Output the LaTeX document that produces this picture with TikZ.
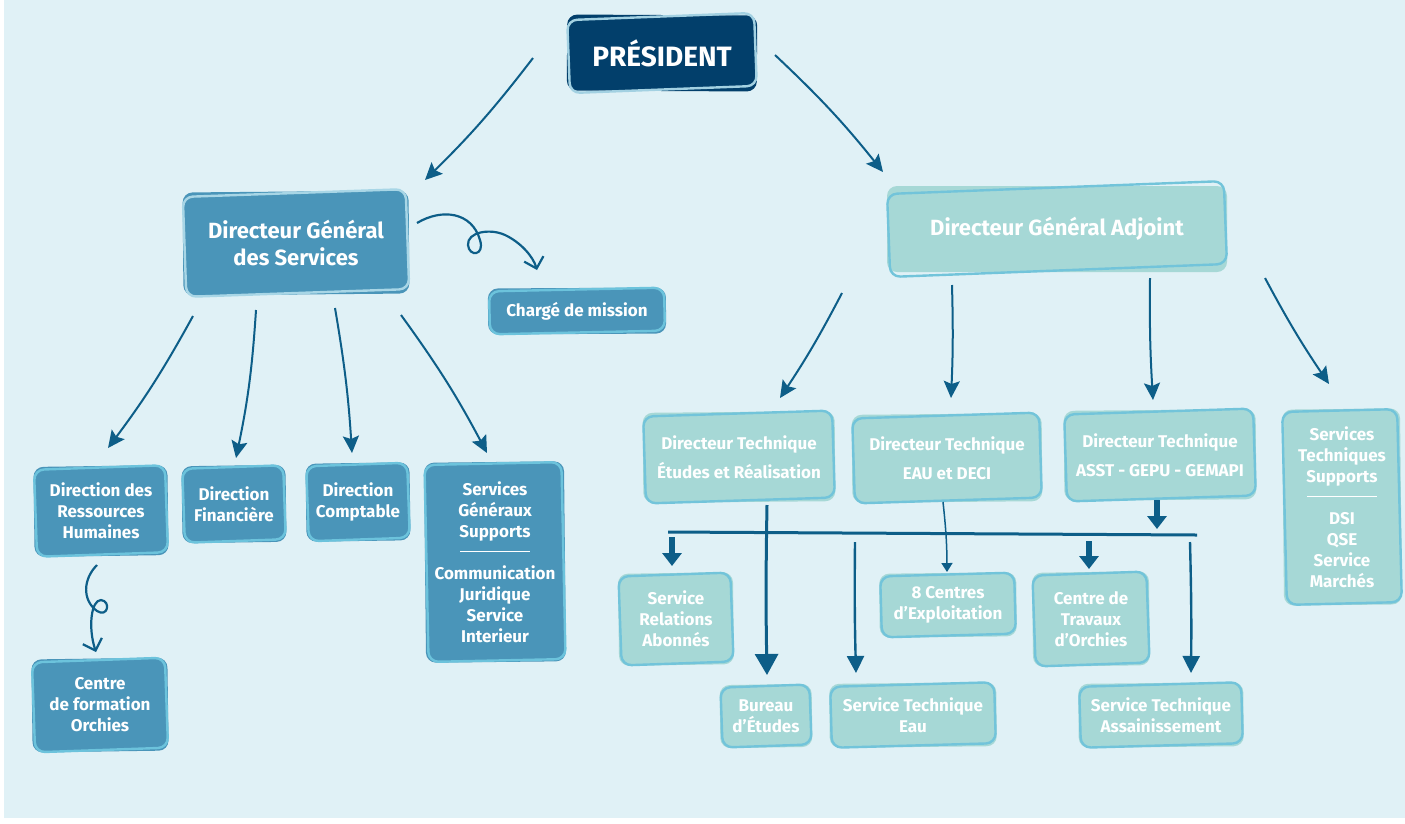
\documentclass[tikz,border=0pt]{standalone}
\usepackage{fontspec}
\setmainfont{Fira Sans}
\usetikzlibrary{arrows.meta,calc}
\definecolor{bgc}{HTML}{E0F1F6}
\definecolor{navy}{HTML}{023F6B}
\definecolor{navyline}{HTML}{A3D1E2}
\definecolor{cblue}{HTML}{4A95B9}
\definecolor{cblueline}{HTML}{6CC3DC}
\definecolor{dgsline}{HTML}{A8D6E6}
\definecolor{cteal}{HTML}{A6D8D6}
\definecolor{ctealline}{HTML}{72C4DA}
\definecolor{carr}{HTML}{0D5E88}
\pgfdeclarelayer{bg}
\pgfdeclarelayer{boxes}
\pgfsetlayers{bg,boxes,main}
\newcommand\fpres{\bfseries\fontsize{28}{34}\selectfont}
\newcommand\fbig{\bfseries\fontsize{22}{27}\selectfont}
\newcommand\fmid{\bfseries\fontsize{17}{21}\selectfont}
\newcommand\fsm{\bfseries\fontsize{17}{21}\selectfont}
\newcommand\fdt{\bfseries\fontsize{17}{28.5}\selectfont}
\tikzset{
  fc/.code={\colorlet{bxf}{#1}},
  lc/.code={\colorlet{bxl}{#1}},
  navybox/.style={fc=navy, lc=navyline},
  dgsbox/.style={fc=cblue, lc=dgsline},
  bluebox/.style={fc=cblue, lc=cblueline},
  tealbox/.style={fc=cteal, lc=ctealline},
  boxtext/.style={text=white, align=center, inner sep=0pt, outer sep=0pt},
  arr/.style={draw=carr, line width=2pt, -{Stealth[length=17pt, width=16pt, inset=3pt]}},
  blockarr/.style={draw=carr, line width=5.5pt, -{Triangle[length=13pt, width=19pt]}},
  bigarr/.style={draw=carr, line width=3pt, -{Triangle[length=21pt, width=23pt]}},
  midarr/.style={draw=carr, line width=2.4pt, -{Triangle[length=17pt, width=17pt]}},
  thinarr/.style={draw=carr, line width=1.5pt, -{Triangle[length=9pt, width=11pt]}},
  curlarr/.style={draw=carr, line width=2.2pt, -{Straight Barb[length=10pt, width=20pt, line width=2.2pt]}},
}
% #1 name, #2 x, #3 y, #4 w, #5 h, #6 style, #7 fill angle, #8 outline angle, #9 text
\newcommand\ubox[9]{%
  \begin{scope}[#6]
  \begin{pgfonlayer}{boxes}
    \node[fill=bxf, rounded corners=10pt, minimum width=#4, minimum height=#5, rotate=#7, inner sep=0pt] at (#2,#3) {};
    \node[draw=bxl, line width=2.4pt, rounded corners=10pt, minimum width=#4-3, minimum height=#5-3, rotate=#8, inner sep=0pt] at (#2,#3) {};
  \end{pgfonlayer}
  \node[boxtext, minimum width=#4, minimum height=#5] (#1) at (#2,#3) {#9};
  \end{scope}}
\begin{document}
\begin{tikzpicture}[x=1pt, y=-1pt]
\useasboundingbox (0,0) rectangle (1405,823);
\begin{pgfonlayer}{bg}
  \fill[white] (0,0) rectangle (1405,823);
  \fill[bgc] (4,0) rectangle (1405,818);
\end{pgfonlayer}

% boxes
\ubox{pres}{662}{53}{190}{76}{navybox, font=\fpres}{-0.3}{2.2}{PRÉSIDENT}
\ubox{dgs}{296}{243}{226}{103}{dgsbox, font=\fbig}{0.5}{2}{Directeur Général\\des Services}
\ubox{cdm}{577}{311}{178}{46}{bluebox, font=\fmid}{0.3}{1.2}{Chargé de mission}
\ubox{dga}{1057}{229}{340}{86}{tealbox, font=\fbig}{0}{2.2}{Directeur Général Adjoint}

\ubox{drh}{101}{511}{134}{90}{bluebox, font=\fsm}{0.8}{2}{Direction des\\Ressources\\Humaines}
\ubox{df}{234}{504}{104}{77}{bluebox, font=\fsm}{0.8}{2}{Direction\\Financière}
\ubox{dc}{358}{502}{104}{78}{bluebox, font=\fsm}{0.8}{2}{Direction\\Comptable}
\ubox{sgs}{495}{562}{140}{200}{bluebox, font=\fsm}{0.6}{1.2}{Services\\Généraux\\Supports\\[-6pt]\rule{70pt}{1.2pt}\\[6pt]Communication\\Juridique\\Service\\Interieur}
\ubox{cfo}{100}{705}{136}{93}{bluebox, font=\fsm}{0.8}{2}{Centre\\de formation\\Orchies}

\ubox{dter}{739}{457}{192}{90}{tealbox, font=\fdt}{0.5}{1.8}{Directeur Technique\\Études et Réalisation}
\ubox{dteau}{947}{458}{190}{88}{tealbox, font=\fdt}{0.5}{1.8}{Directeur Technique\\EAU et DECI}
\ubox{dtasst}{1160}{455}{192}{90}{tealbox, font=\fdt}{0.5}{1.8}{Directeur Technique\\ASST - GEPU - GEMAPI}
\ubox{sts}{1342}{507}{118}{196}{tealbox, font=\fsm}{0.6}{1.4}{Services\\Techniques\\Supports\\[-6pt]\rule{70pt}{1.2pt}\\[6pt]DSI\\QSE\\Service\\Marchés}

\ubox{sra}{676}{619}{115}{92}{tealbox, font=\fsm}{0.8}{2}{Service\\Relations\\Abonnés}
\ubox{be}{766}{716}{92}{63}{tealbox, font=\fsm}{0.8}{2}{Bureau\\d’Études}
\ubox{ste}{913}{715}{167}{64}{tealbox, font=\fsm}{0.6}{1.6}{Service Technique\\Eau}
\ubox{hc}{948}{605}{137}{64}{tealbox, font=\fsm}{0.6}{1.6}{8 Centres\\d’Exploitation}
\ubox{cto}{1091}{619}{117}{94}{tealbox, font=\fsm}{0.8}{2}{Centre de\\Travaux\\d’Orchies}
\ubox{sta}{1161}{715}{165}{64}{tealbox, font=\fsm}{0.6}{1.6}{Service Technique\\Assainissement}

% arrows from president
\draw[arr] ([shift={(-129,5)}]pres.center) to[bend left=4] ([shift={(129,-63)}]dgs.center);
\draw[arr] ([shift={(113,2)}]pres.center) to[bend left=4] ([shift={(-174,-57)}]dga.center);

% DGS
\draw[curlarr] ([shift={(121,-20)}]dgs.center)
   .. controls +(25,-15) and (472,212) .. (480,240)
   .. controls (485,256) and (469,257) .. (468,245)
   .. controls (467,232) and (490,228) .. (505,235)
   .. controls (520,242) and (533,256) .. ([shift={(-40,-41)}]cdm.center);
\draw[arr] ([shift={(-103,73)}]dgs.center) to[bend left=4] ([shift={(7,-63)}]drh.center);
\draw[arr] ([shift={(-40,67)}]dgs.center) to[bend left=4] ([shift={(2,-46)}]df.center);
\draw[arr] ([shift={(39,65)}]dgs.center) to[bend left=3] ([shift={(-6,-49)}]dc.center);
\draw[arr] ([shift={(105,72)}]dgs.center) to[bend left=4] ([shift={(-8,-109)}]sgs.center);

% DRH -> centre de formation
\draw[curlarr] ([shift={(-4,54)}]drh.center)
   .. controls +(-14,14) and (82,600) .. (97,611)
   .. controls (108,618) and (111,601) .. (101,600)
   .. controls (91,600) and (88,628) .. ([shift={(-4,-53)}]cfo.center);

% DGA
\draw[arr] ([shift={(-215,64)}]dga.center) to[bend left=3] ([shift={(41,-59)}]dter.center);
\draw[arr] ([shift={(-105,56)}]dga.center) to[bend left=2] ([shift={(4,-60)}]dteau.center);
\draw[arr] ([shift={(93,49)}]dga.center) to[bend right=2] ([shift={(-7,-55)}]dtasst.center);
\draw[arr] ([shift={(208,49)}]dga.center) to[bend right=3] ([shift={(-13,-123)}]sts.center);

% bus
\coordinate (busL) at (668,532);
\coordinate (busR) at (1197,535);
\coordinate (b0) at (1157,529);
\coordinate (b1) at (672,537);
\coordinate (b2) at (855,542);
\coordinate (b3) at (1089,541);
\coordinate (b4) at (1190,542);
\draw[carr, line width=3pt] (busL) -- (busR);
\draw[blockarr] ([shift={(-3,45)}]dtasst.center) -- (b0);
\draw[blockarr] (b1) -- ([shift={(-4,-53)}]sra.center);
\draw[blockarr] (b3) -- ([shift={(-2,-50)}]cto.center);
\draw[midarr] (b2) to[bend right=1] ([shift={(-57,-42)}]ste.center);
\draw[midarr] (b4) to[bend left=1] ([shift={(30,-42)}]sta.center);
\draw[bigarr] ([shift={(28,48)}]dter.center) to[bend right=1] ([shift={(1,-41)}]be.center);
\draw[thinarr] ([shift={(-4,44)}]dteau.center) to[bend left=3] ([shift={(-1,-33)}]hc.center);
\end{tikzpicture}
\end{document}
